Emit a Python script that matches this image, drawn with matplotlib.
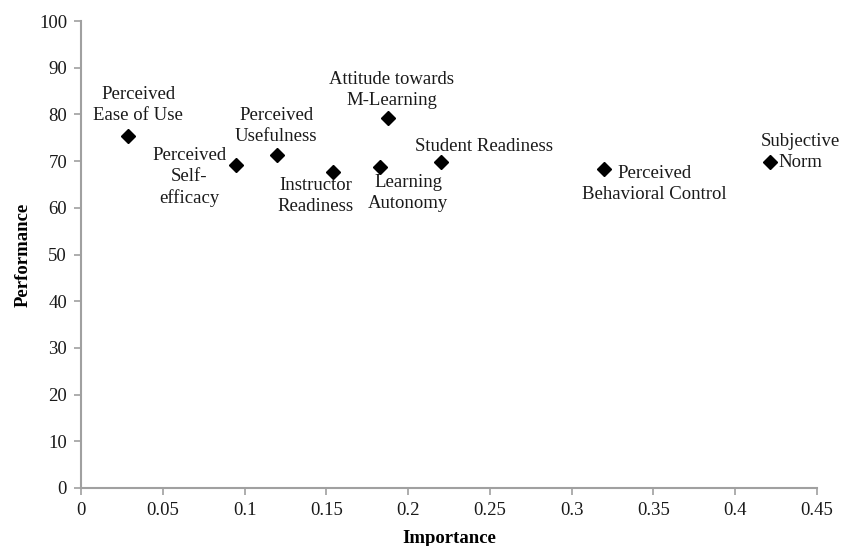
import matplotlib
matplotlib.use("Agg")
import matplotlib.pyplot as plt

plt.rcParams["font.family"] = ["Liberation Serif", "DejaVu Serif"]

factors = [
    "Perceived\nEase of Use",
    "Perceived\nSelf-\nefficacy",
    "Perceived\nUsefulness",
    "Instructor\nReadiness",
    "Attitude towards\nM-Learning",
    "Learning\nAutonomy",
    "Student Readiness",
    "Perceived\nBehavioral Control",
    "Subjective\nNorm",
]
importance = [0.029, 0.095, 0.120, 0.154, 0.188, 0.183, 0.220, 0.320, 0.421]
performance = [75.3, 69.2, 71.4, 67.7, 79.3, 68.7, 69.8, 68.3, 69.8]

# label offsets in pixels (dx, dy)
label_offsets = [(10, 31), (-47, -12), (-1, 29), (-17, -24), (3, 28),
                 (28, -26), (43, 16), (50, -15), (31, 10)]

x_ticks = [0, 0.05, 0.1, 0.15, 0.2, 0.25, 0.3, 0.35, 0.4, 0.45]
x_tick_labels = ["0", "0.05", "0.1", "0.15", "0.2", "0.25", "0.3", "0.35", "0.4", "0.45"]
y_ticks = list(range(0, 101, 10))

fig = plt.figure(figsize=(8.51, 5.46), dpi=100)
ax = fig.add_axes([81 / 851, 58 / 546, 736 / 851, 467 / 546])

ax.plot(importance, performance, linestyle="none", marker="D", markersize=7.5,
        color="black", zorder=3, clip_on=False)

for name, x, y, (dx, dy) in zip(factors, importance, performance, label_offsets):
    ax.annotate(name, (x, y), xytext=(dx, dy), textcoords="offset pixels",
                ha="center", va="center", multialignment="center",
                fontsize=13.5, linespacing=1.3, color="#1a1a1a")

ax.set_xlim(0, 0.45)
ax.set_ylim(0, 100)
ax.set_xticks(x_ticks)
ax.set_xticklabels(x_tick_labels)
ax.set_yticks(y_ticks)

for side in ("top", "right"):
    ax.spines[side].set_visible(False)
for side in ("left", "bottom"):
    ax.spines[side].set_color("#a0a0a0")
    ax.spines[side].set_linewidth(1.5)
ax.tick_params(axis="both", direction="out", length=5, width=1.2, color="#a0a0a0",
               labelsize=13.5, labelcolor="#1a1a1a", pad=5)

ax.set_xlabel("Importance", fontsize=13.5, fontweight="bold", labelpad=8)
ax.set_ylabel("Performance", fontsize=13.5, fontweight="bold", labelpad=5)

fig.savefig("out.png", dpi=100)
